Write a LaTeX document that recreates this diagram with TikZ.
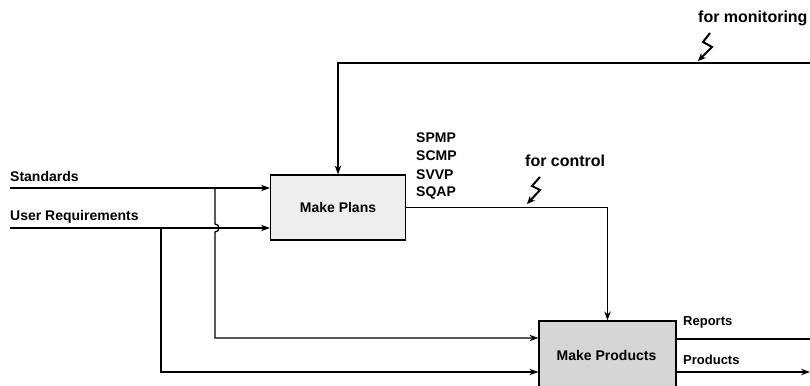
\documentclass[tikz,border=0pt]{standalone}
\usepackage{fontspec}
\setmainfont{Liberation Sans}
\usetikzlibrary{arrows.meta,positioning}

\begin{document}
\begin{tikzpicture}[x=1pt,y=-1pt,
  box/.style={draw,line width=1.2pt,minimum width=135pt,minimum height=65pt,font=\fontsize{14}{16}\selectfont\bfseries},
  lbl/.style={anchor=west,inner sep=0pt,font=\fontsize{14}{16}\selectfont\bfseries},
  note/.style={anchor=west,inner sep=0pt,font=\fontsize{16}{18}\selectfont\bfseries},
  flow/.style={line width=1.3pt,-{Stealth[length=9pt,width=6.5pt]}},
  bolt/.style={line width=2pt,line join=miter,-{Stealth[length=8pt,width=7pt]}},
]
  \clip (0,0) rectangle (810,385);

  \node[box,fill=gray!13] (plans) at (338,207.5) {Make Plans};
  \node[box,fill=gray!32,minimum width=137pt,minimum height=80pt] (products) at (607.5,361) {};
  \node[font=\fontsize{14}{16}\selectfont\bfseries] (prodtxt) at (606.5,355) {Make Products};

  % inputs
  \coordinate (std) at (10,188);
  \coordinate (ureq) at (10,228);
  \coordinate (tapS) at (215,188);
  \coordinate (tapU) at (161,228);
  \node[lbl] (stdl) at (10,176) {Standards};
  \node[lbl] (ureql) at (10,217) {User Requirements};
  \draw[flow] (std) -- (plans.west |- std);
  \draw[flow] (ureq) -- (plans.west |- ureq);
  \draw[flow] (tapS) -- ++(0,36) arc[start angle=-90,end angle=90,radius=4] |- (products.west |- 0,338);
  \draw[flow] (tapU) |- (products.west |- 0,372);

  % plans out
  \foreach \t [count=\i] in {SPMP,SCMP,SVVP,SQAP}
    \node[lbl] (plan\i) at (416,{119.5+18.3*\i}) {\t};
  \node[note] (ctrl) at (525,161) {for control};
  \draw[flow] (plans.east) -| (products.north);
  \draw[bolt] (540,177) -- (532,186) -- (540,190) -- (527,204);

  % monitoring loop
  \coordinate (monR) at (810,63);
  \node[note] (mon) at (698,18) {for monitoring};
  \draw[flow] (monR) -| (plans.north);
  \draw[bolt] (710,33) -- (703,42) -- (712,47) -- (698,61);

  % outputs
  \coordinate (repR) at (810,339);
  \coordinate (prodR) at (810,372);
  \node[lbl,font=\fontsize{13}{15}\selectfont\bfseries] (rep) at (683,322) {Reports};
  \node[lbl,font=\fontsize{13}{15}\selectfont\bfseries] (prod) at (683,360) {Products};
  \draw[line width=1.3pt] (products.east |- repR) -- (repR);
  \draw[flow] (products.east |- prodR) -- (prodR);
\end{tikzpicture}
\end{document}
